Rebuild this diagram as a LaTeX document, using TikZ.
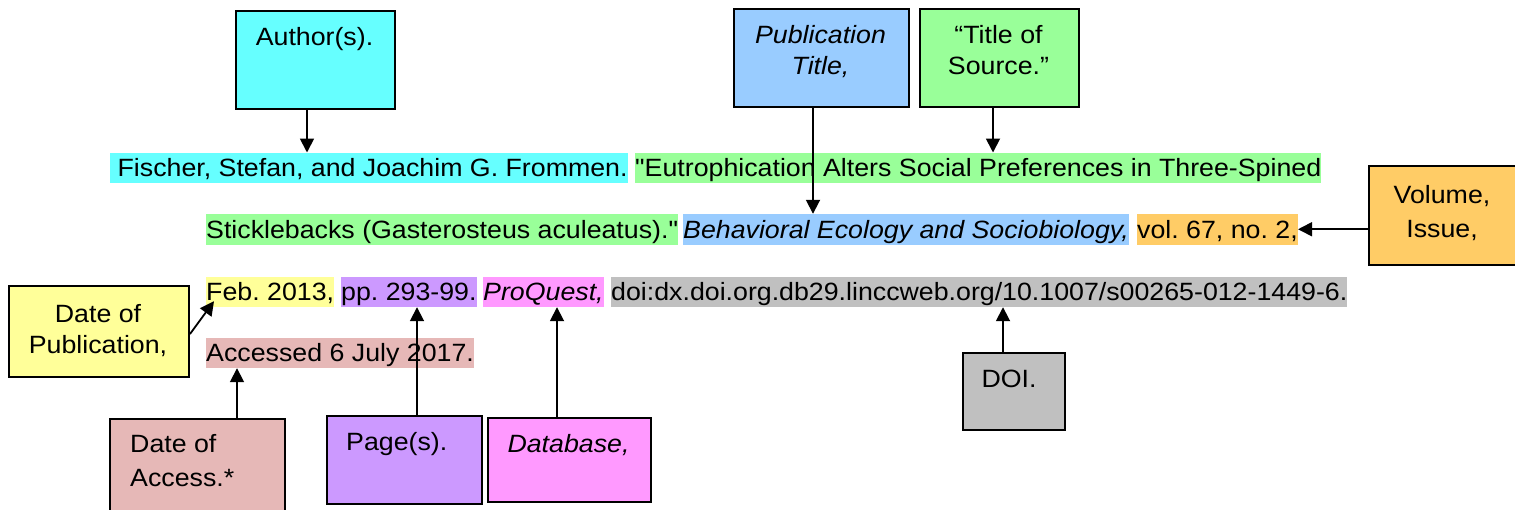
\documentclass[tikz,border=0pt]{standalone}
\usepackage{fontspec}
\setmainfont[FakeStretch=1.07, Ligatures=TeXOff]{Liberation Sans}
\usetikzlibrary{arrows.meta}
\definecolor{cCyan}{HTML}{66FFFF}
\definecolor{cGreen}{HTML}{99FF99}
\definecolor{cBlue}{HTML}{99CCFF}
\definecolor{cOrange}{HTML}{FFCC66}
\definecolor{cYellow}{HTML}{FFFF99}
\definecolor{cPurple}{HTML}{CC99FF}
\definecolor{cPink}{HTML}{FF99FF}
\definecolor{cGray}{HTML}{C0C0C0}
\definecolor{cRose}{HTML}{E6B8B7}
\tikzset{
  txt/.style={font=\fontsize{25}{30}\selectfont\frenchspacing, inner sep=0pt},
  itxt/.style={font=\fontsize{25}{30}\selectfont\itshape\frenchspacing, inner sep=0pt},
  hl/.style={inner xsep=0pt, inner ysep=0pt, text height=24pt, text depth=6.5pt, anchor=base west},
  box/.style={draw=black, line width=2pt, anchor=north west, inner sep=0pt},
  arr/.style={-{Triangle[length=14pt,width=14pt]}, line width=1.8pt}
}
\begin{document}
\begin{tikzpicture}[x=1pt,y=-1pt]
\fill[white] (0,0) rectangle (1515,509);
\useasboundingbox (0,0) rectangle (1515,509);
\clip (0,0) rectangle (1515,509);

% highlighted citation segments
\node[txt, hl, fill=cCyan]  (auth)   at (110,176.7) {\ Fischer, Stefan, and Joachim G. Frommen.};
\node[txt, hl, fill=cGreen] (title1) at (635,176.7) {"Eutrophication Alters Social Preferences in Three-Spined};
\node[txt, hl, fill=cGreen] (title2) at (206,238) {Sticklebacks (Gasterosteus aculeatus)."};
\node[itxt, hl, fill=cBlue] (journal) at (683,238) {Behavioral Ecology and Sociobiology,};
\node[txt, hl, fill=cOrange] (vol)   at (1137,238) {vol. 67, no. 2,};
\node[txt, hl, fill=cYellow] (date)  at (206,300.5) {Feb. 2013,};
\node[txt, hl, fill=cPurple] (pages) at (341,300.5) {pp. 293-99.};
\node[itxt, hl, fill=cPink]  (db)    at (483,300.5) {ProQuest,};
\node[txt, hl, fill=cGray]   (doi)   at (611,300.5) {doi:dx.doi.org.db29.linccweb.org/10.1007/s00265-012-1449-6.};
\node[txt, hl, fill=cRose]   (acc)   at (206,361.5) {Accessed 6 July 2017.};

% label boxes
\node[box, fill=cCyan,   minimum width=159pt, minimum height=98pt] (authbox)  at (235,10) {};
\node[box, fill=cBlue,   minimum width=175pt, minimum height=98pt] (pubbox)   at (733,8) {};
\node[box, fill=cGreen,  minimum width=159pt, minimum height=98pt] (titbox)   at (919,8) {};
\node[box, fill=cOrange, minimum width=149pt, minimum height=99pt] (volbox)   at (1368,165) {};
\node[box, fill=cYellow, minimum width=180pt, minimum height=91pt] (datebox)  at (8,285) {};
\node[box, fill=cRose,   minimum width=175pt, minimum height=110pt] (accbox)  at (109,418) {};
\node[box, fill=cPurple, minimum width=155pt, minimum height=88pt] (pagebox)  at (326,415) {};
\node[box, fill=cPink,   minimum width=163pt, minimum height=84pt] (dbbox)    at (487,417) {};
\node[box, fill=cGray,   minimum width=102pt, minimum height=77pt] (doibox)   at (962,352) {};

% box texts
\node[txt, anchor=base] (authT) at (314.5,45.5) {Author(s).};
\node[itxt, anchor=base] (pubT1) at (820.5,43) {Publication};
\node[itxt, anchor=base] (pubT2) at (820.5,74) {Title,};
\node[txt, anchor=base] (titT1) at (998.5,43) {“Title of};
\node[txt, anchor=base] (titT2) at (998.5,74) {Source.”};
\node[txt, anchor=base] (volT1) at (1442,203) {Volume,};
\node[txt, anchor=base] (volT2) at (1442,237) {Issue,};
\node[txt, anchor=base] (dateT1) at (98,322) {Date of};
\node[txt, anchor=base] (dateT2) at (98,353) {Publication,};
\node[txt, anchor=base west] (accT1) at (130,452.5) {Date of};
\node[txt, anchor=base west] (accT2) at (130,486) {Access.*};
\node[txt, anchor=base west] (pageT) at (346,450.7) {Page(s).};
\node[itxt, anchor=base] (dbT) at (568.5,452.7) {Database,};
\node[txt, anchor=base] (doiT) at (1009,387.3) {DOI.};

% connectors
\draw[arr] ([xshift=-8.5pt]authbox.south) -- ([xshift=-8.5pt]authbox.south |- auth.north);
\draw[arr] ([xshift=-8.5pt]pubbox.south) -- ([xshift=-8.5pt]pubbox.south |- journal.north);
\draw[arr] ([xshift=-6.5pt]titbox.south) -- ([xshift=-6.5pt]titbox.south |- title1.north);
\draw[arr] (volbox.west |- vol.east) -- (vol.east);
\draw[arr] ([yshift=-2.5pt]datebox.east) -- ([xshift=8pt,yshift=6pt]date.south west);
\draw[arr] ([xshift=39.5pt]accbox.north) -- ([xshift=39.5pt]accbox.north |- acc.south);
\draw[arr] ([xshift=12.5pt]pagebox.north) -- ([xshift=12.5pt]pagebox.north |- pages.south);
\draw[arr] ([xshift=-12.5pt]dbbox.north) -- ([xshift=-12.5pt]dbbox.north |- db.south);
\draw[arr] ([xshift=-11pt]doibox.north) -- ([xshift=-11pt]doibox.north |- doi.south);
\end{tikzpicture}
\end{document}
